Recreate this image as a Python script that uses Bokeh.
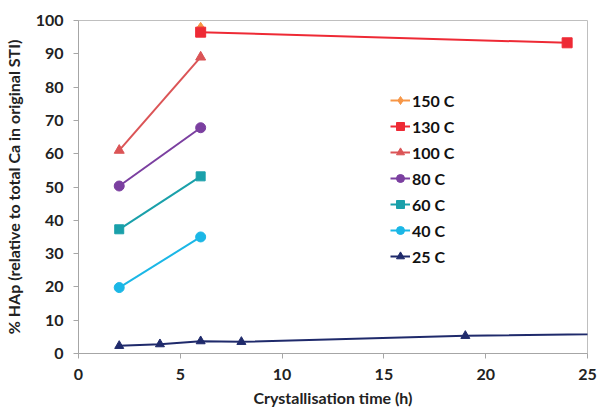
from bokeh.plotting import figure
from bokeh.embed import file_html
from bokeh.resources import INLINE
from bokeh.models import Range1d, FixedTicker, Legend, LegendItem

# Data
t150 = [6]
y150 = [97.5]
t130 = [6, 24]
y130 = [96.5, 93.3]
t100 = [2, 6]
y100 = [61.0, 89.0]
t80 = [2, 6]
y80 = [50.3, 67.8]
t60 = [2, 6]
y60 = [37.3, 53.2]
t40 = [2, 6]
y40 = [19.8, 35.0]
t25 = [2, 4, 6, 8, 19, 48]
y25 = [2.3, 2.8, 3.7, 3.5, 5.3, 7.7]

x_ticks = [0, 5, 10, 15, 20, 25]
y_ticks = [0, 10, 20, 30, 40, 50, 60, 70, 80, 90, 100]

FONT = "Lato"

p = figure(output_backend="svg", toolbar_location=None,
           frame_width=509, frame_height=333,
           min_border_left=77, min_border_right=11,
           min_border_top=20, min_border_bottom=61,
           x_range=Range1d(0, 25), y_range=Range1d(0, 100))

p.xgrid.visible = False
p.ygrid.visible = False
p.outline_line_color = "#bfbfbf"
p.outline_line_width = 1

for ax in (p.xaxis, p.yaxis):
    ax.axis_line_color = "#a6a6a6"
    ax.major_tick_line_color = "#a6a6a6"
    ax.minor_tick_line_color = None
    ax.major_tick_in = 0
    ax.major_tick_out = 5
    ax.major_label_text_font = FONT
    ax.major_label_text_font_style = "bold"
    ax.major_label_text_font_size = "16px"
    ax.major_label_text_color = "#222222"
    ax.axis_label_text_font = FONT
    ax.axis_label_text_font_style = "bold"
    ax.axis_label_text_color = "#222222"

p.xaxis.axis_label_text_font_size = "16px"
p.yaxis.axis_label_text_font_size = "16px"
p.xaxis.ticker = FixedTicker(ticks=x_ticks)
p.yaxis.ticker = FixedTicker(ticks=y_ticks)
p.xaxis.axis_label = "Crystallisation time (h)"
p.yaxis.axis_label = "% HAp (relative to total Ca in original STI)"
p.xaxis.major_label_standoff = 10
p.yaxis.major_label_standoff = 10
p.xaxis.axis_label_standoff = 5
p.yaxis.axis_label_standoff = 10

series = [
    ("150 C", t150, y150, "#F79646", "diamond", 13),
    ("130 C", t130, y130, "#EE2A35", "square", 10),
    ("100 C", t100, y100, "#DB5456", "triangle", 10),
    ("80 C", t80, y80, "#7B3FA0", "circle", 10),
    ("60 C", t60, y60, "#1AA0AA", "square", 9),
    ("40 C", t40, y40, "#1BB7E6", "circle", 10),
    ("25 C", t25, y25, "#1F2A6B", "triangle", 9),
]

items = []
for name, xs, ys, col, mk, sz in series:
    r_line = p.line(xs, ys, line_color=col, line_width=2)
    r_pt = p.scatter(xs, ys, marker=mk, size=sz, fill_color=col, line_color=col)
    items.append(LegendItem(label=name, renderers=[r_line, r_pt]))

legend = Legend(items=items, location=(312, 87),
                background_fill_alpha=0, border_line_color=None,
                padding=0, margin=0, spacing=6,
                glyph_width=20, glyph_height=20, label_height=20,
                label_standoff=2,
                label_text_font=FONT, label_text_font_style="bold",
                label_text_font_size="16px", label_text_color="#111111")
p.add_layout(legend)

open("out.html", "w").write(file_html(p, INLINE))
